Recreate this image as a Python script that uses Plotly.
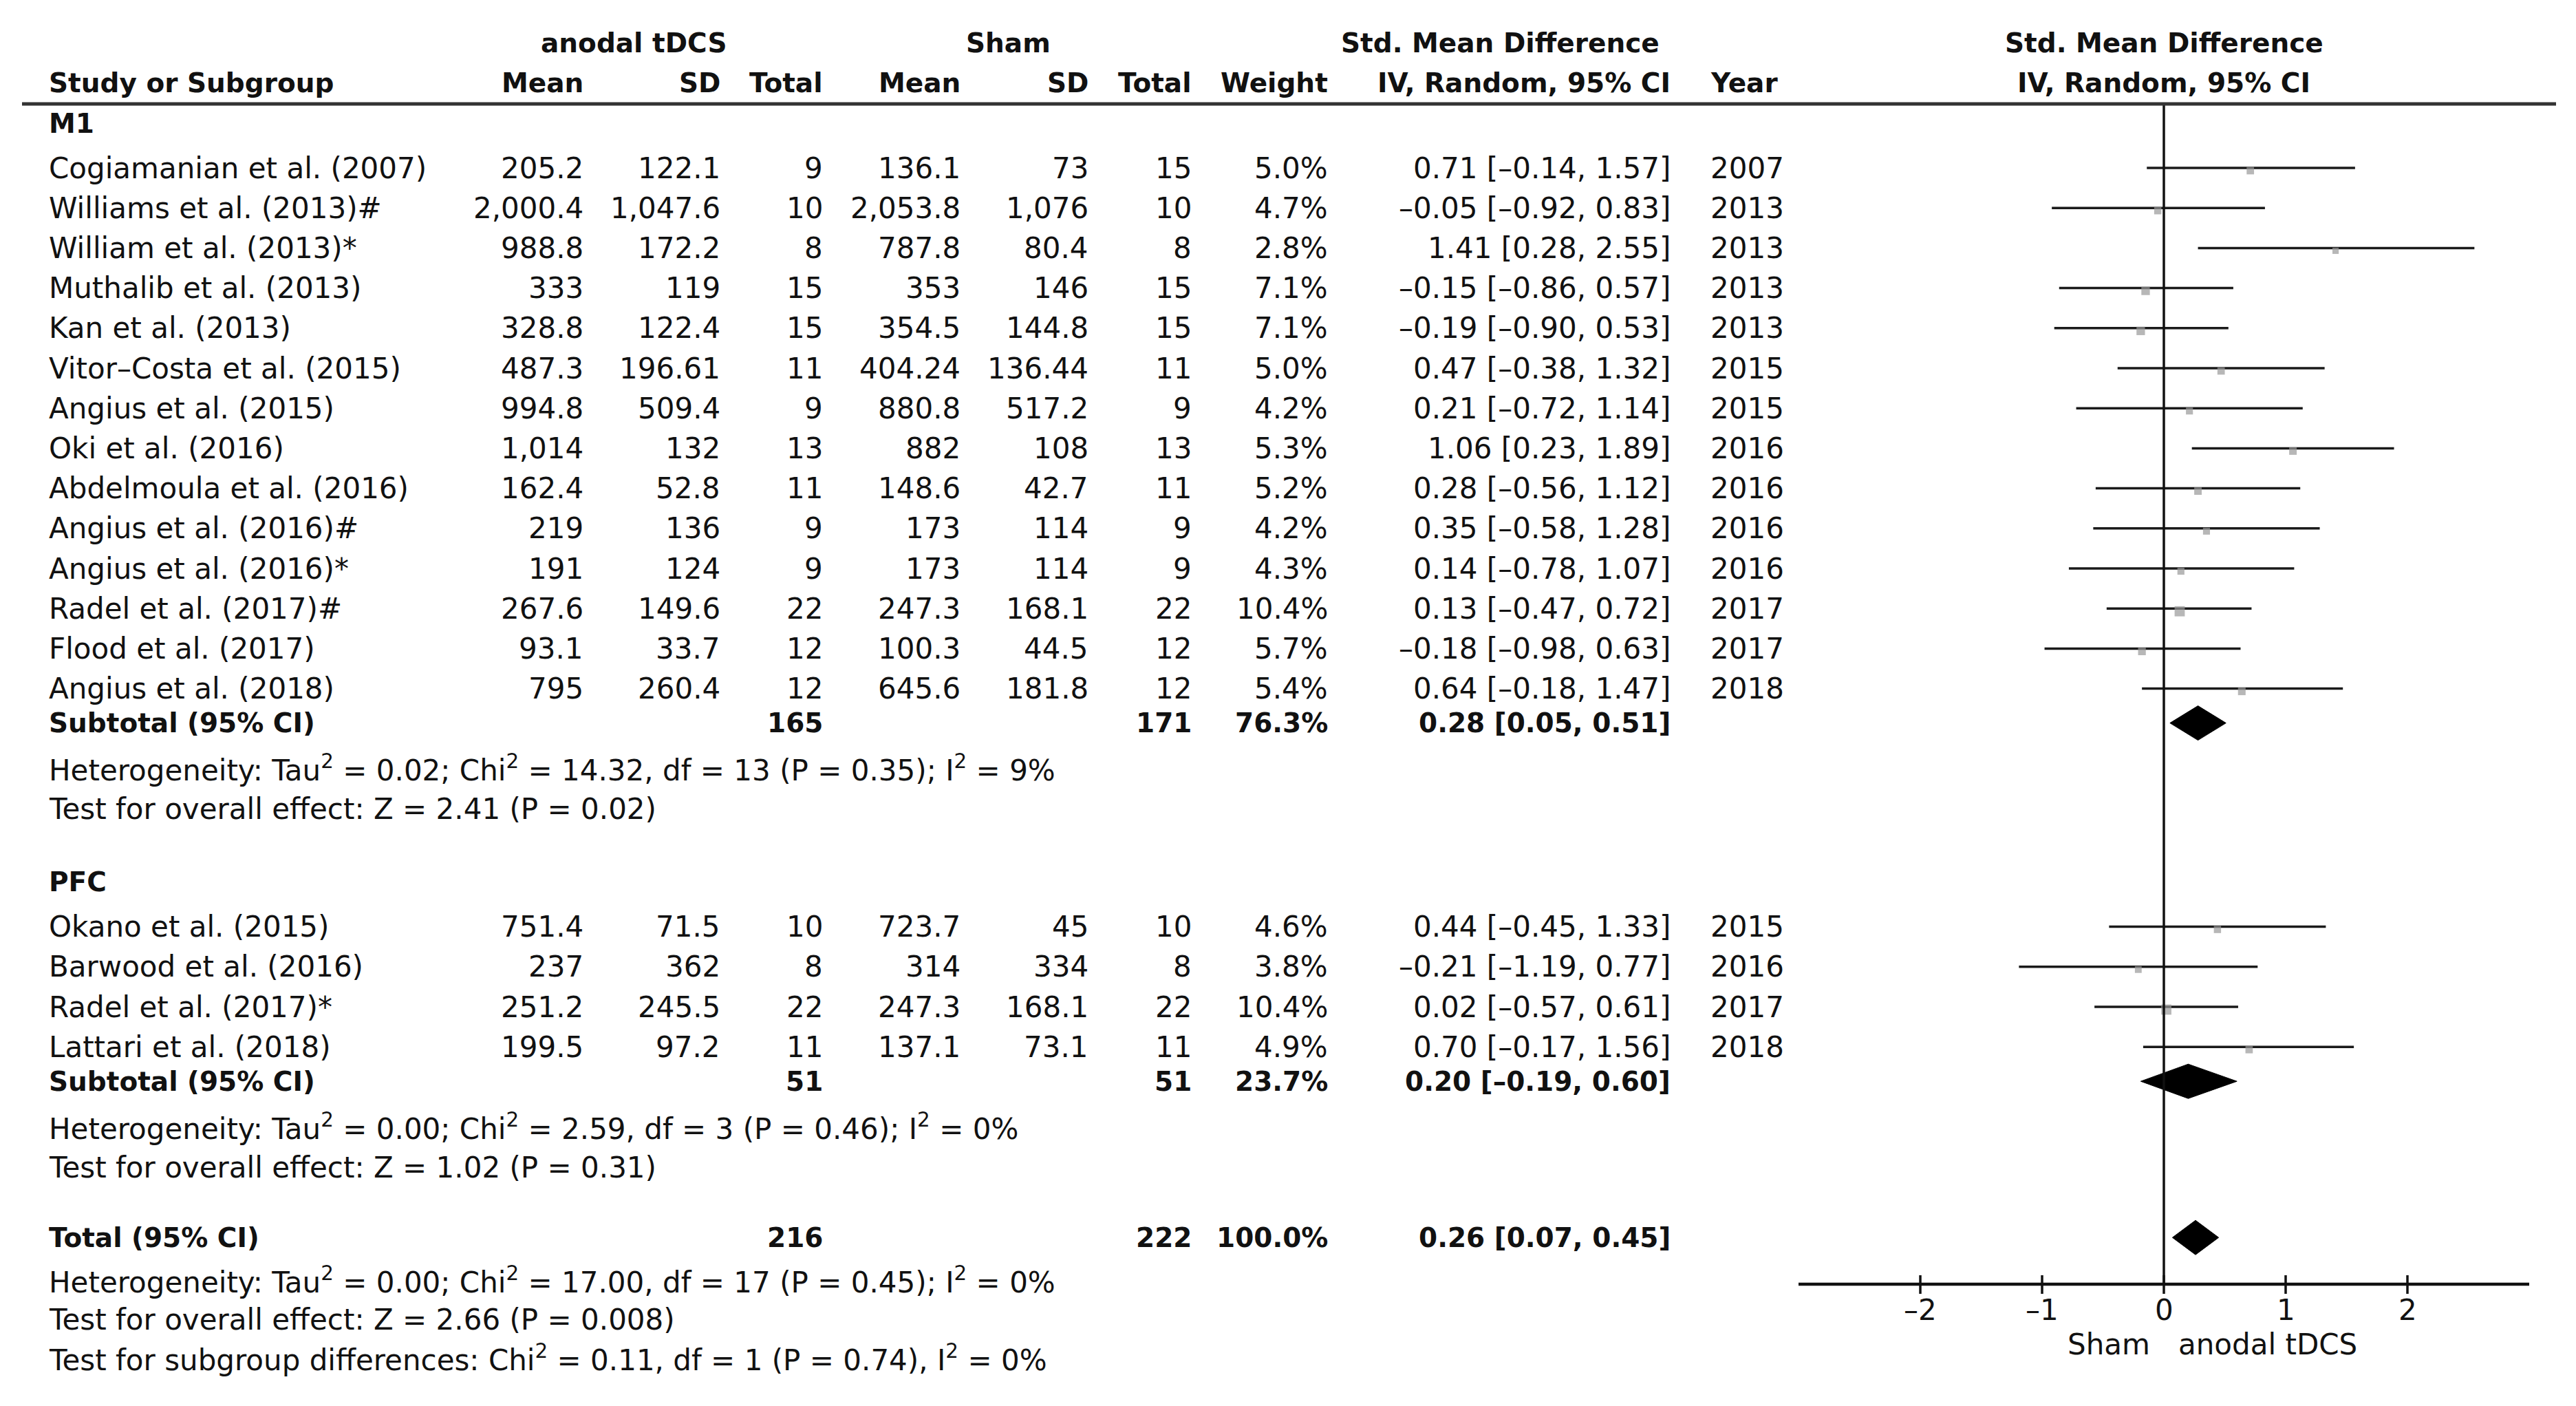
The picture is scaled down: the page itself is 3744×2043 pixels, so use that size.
import plotly.graph_objects as go

# ---------------- data ----------------
m1_study = ["Cogiamanian et al. (2007)", "Williams et al. (2013)#", "William et al. (2013)*",
            "Muthalib et al. (2013)", "Kan et al. (2013)", "Vitor–Costa et al. (2015)",
            "Angius et al. (2015)", "Oki et al. (2016)", "Abdelmoula et al. (2016)",
            "Angius et al. (2016)#", "Angius et al. (2016)*", "Radel et al. (2017)#",
            "Flood et al. (2017)", "Angius et al. (2018)"]
m1_exp_mean = [205.2, 2000.4, 988.8, 333, 328.8, 487.3, 994.8, 1014, 162.4, 219, 191, 267.6, 93.1, 795]
m1_exp_sd = [122.1, 1047.6, 172.2, 119, 122.4, 196.61, 509.4, 132, 52.8, 136, 124, 149.6, 33.7, 260.4]
m1_exp_n = [9, 10, 8, 15, 15, 11, 9, 13, 11, 9, 9, 22, 12, 12]
m1_ctl_mean = [136.1, 2053.8, 787.8, 353, 354.5, 404.24, 880.8, 882, 148.6, 173, 173, 247.3, 100.3, 645.6]
m1_ctl_sd = [73, 1076, 80.4, 146, 144.8, 136.44, 517.2, 108, 42.7, 114, 114, 168.1, 44.5, 181.8]
m1_ctl_n = [15, 10, 8, 15, 15, 11, 9, 13, 11, 9, 9, 22, 12, 12]
m1_weight = [5.0, 4.7, 2.8, 7.1, 7.1, 5.0, 4.2, 5.3, 5.2, 4.2, 4.3, 10.4, 5.7, 5.4]
m1_smd = [0.71, -0.05, 1.41, -0.15, -0.19, 0.47, 0.21, 1.06, 0.28, 0.35, 0.14, 0.13, -0.18, 0.64]
m1_lo = [-0.14, -0.92, 0.28, -0.86, -0.90, -0.38, -0.72, 0.23, -0.56, -0.58, -0.78, -0.47, -0.98, -0.18]
m1_hi = [1.57, 0.83, 2.55, 0.57, 0.53, 1.32, 1.14, 1.89, 1.12, 1.28, 1.07, 0.72, 0.63, 1.47]
m1_year = [2007, 2013, 2013, 2013, 2013, 2015, 2015, 2016, 2016, 2016, 2016, 2017, 2017, 2018]
m1_subtotal = dict(exp_n=165, ctl_n=171, weight=76.3, smd=0.28, lo=0.05, hi=0.51)
m1_het = "Heterogeneity: Tau<sup>2</sup> = 0.02; Chi<sup>2</sup> = 14.32, df = 13 (P = 0.35); I<sup>2</sup> = 9%"
m1_test = "Test for overall effect: Z = 2.41 (P = 0.02)"

pfc_study = ["Okano et al. (2015)", "Barwood et al. (2016)", "Radel et al. (2017)*", "Lattari et al. (2018)"]
pfc_exp_mean = [751.4, 237, 251.2, 199.5]
pfc_exp_sd = [71.5, 362, 245.5, 97.2]
pfc_exp_n = [10, 8, 22, 11]
pfc_ctl_mean = [723.7, 314, 247.3, 137.1]
pfc_ctl_sd = [45, 334, 168.1, 73.1]
pfc_ctl_n = [10, 8, 22, 11]
pfc_weight = [4.6, 3.8, 10.4, 4.9]
pfc_smd = [0.44, -0.21, 0.02, 0.70]
pfc_lo = [-0.45, -1.19, -0.57, -0.17]
pfc_hi = [1.33, 0.77, 0.61, 1.56]
pfc_year = [2015, 2016, 2017, 2018]
pfc_subtotal = dict(exp_n=51, ctl_n=51, weight=23.7, smd=0.20, lo=-0.19, hi=0.60)
pfc_het = "Heterogeneity: Tau<sup>2</sup> = 0.00; Chi<sup>2</sup> = 2.59, df = 3 (P = 0.46); I<sup>2</sup> = 0%"
pfc_test = "Test for overall effect: Z = 1.02 (P = 0.31)"

total = dict(exp_n=216, ctl_n=222, weight=100.0, smd=0.26, lo=0.07, hi=0.45)
total_notes = [
    "Heterogeneity: Tau<sup>2</sup> = 0.00; Chi<sup>2</sup> = 17.00, df = 17 (P = 0.45); I<sup>2</sup> = 0%",
    "Test for overall effect: Z = 2.66 (P = 0.008)",
    "Test for subgroup differences: Chi<sup>2</sup> = 0.11, df = 1 (P = 0.74), I<sup>2</sup> = 0%",
]
axis_ticks = [-2, -1, 0, 1, 2]
axis_range = [-3, 3]
favours_left = "Sham"
favours_right = "anodal tDCS"

groups = [
    dict(name="M1", study=m1_study, em=m1_exp_mean, esd=m1_exp_sd, en=m1_exp_n,
         cm=m1_ctl_mean, csd=m1_ctl_sd, cn=m1_ctl_n, w=m1_weight, smd=m1_smd,
         lo=m1_lo, hi=m1_hi, year=m1_year, sub=m1_subtotal, het=m1_het, test=m1_test),
    dict(name="PFC", study=pfc_study, em=pfc_exp_mean, esd=pfc_exp_sd, en=pfc_exp_n,
         cm=pfc_ctl_mean, csd=pfc_ctl_sd, cn=pfc_ctl_n, w=pfc_weight, smd=pfc_smd,
         lo=pfc_lo, hi=pfc_hi, year=pfc_year, sub=pfc_subtotal, het=pfc_het, test=pfc_test),
]

# ---------------- layout constants ----------------
W, H = 3744, 2043
OFF = 8            # page margin of the browser body
FONT = "DejaVu Sans"
FS = 42
FS_B = 39
TXT = "#111111"
X_STUDY = 69
X_EMEAN, X_ESD, X_EN = 850, 1049, 1198
X_CMEAN, X_CSD, X_CN = 1398, 1584, 1734
X_W, X_CI, X_YEAR = 1932, 2430, 2484
X_EXP_HDR, X_CTL_HDR, X_SMD_HDR = 921, 1465, 2180
Y_H1, Y_H2, Y_RULE = 62, 120, 151
FOREST_L, FOREST_R = 2614, 3676
Y_AXIS = 1866
STEP = 58.2


def px(x):
    return (x - OFF) / W


def num(v):
    return f"{v:,}"


def dash(s):
    return s.replace("-", "–")


def ci(s, l, h):
    return dash(f"{s:.2f} [{l:.2f}, {h:.2f}]")


fig = go.Figure()
ann = []


def text(x, y, s, anchor="left", bold=False, xref="paper"):
    size = FS
    if bold:
        s = f"<b>{s}</b>"
        size = FS_B
    ann.append(dict(x=px(x) if xref == "paper" else x, y=y, xref=xref, yref="y", text=s,
                    showarrow=False, xanchor=anchor, yanchor="middle",
                    font=dict(family=FONT, size=size, color=TXT)))


def diamond(y, d, half=25):
    fig.add_trace(go.Scatter(x=[d["lo"], d["smd"], d["hi"], d["smd"], d["lo"]],
                             y=[y, y - half, y, y + half, y], mode="lines", fill="toself",
                             fillcolor="black", line=dict(color="black", width=1),
                             hoverinfo="skip", showlegend=False))


# headers
text(X_EXP_HDR, Y_H1, "anodal tDCS", "center", True)
text(X_CTL_HDR, Y_H1, "Sham", "center", True)
text(X_SMD_HDR, Y_H1, "Std. Mean Difference", "center", True)
text(3145, Y_H1, "Std. Mean Difference", "center", True)
text(X_STUDY, Y_H2, "Study or Subgroup", "left", True)
for x, s in [(X_EMEAN, "Mean"), (X_ESD, "SD"), (X_EN, "Total"), (X_CMEAN, "Mean"),
             (X_CSD, "SD"), (X_CN, "Total"), (X_W, "Weight"), (X_CI, "IV, Random, 95% CI")]:
    text(x, Y_H2, s, "right", True)
text(X_YEAR, Y_H2, "Year", "left", True)
text(3145, Y_H2, "IV, Random, 95% CI", "center", True)

# rows
y = 179
gaps_after_test = 106
for gi, g in enumerate(groups):
    text(X_STUDY, y, g["name"], "left", True)
    y += 65
    ys = []
    for i, st in enumerate(g["study"]):
        text(X_STUDY, y, st)
        text(X_EMEAN, y, num(g["em"][i]), "right")
        text(X_ESD, y, num(g["esd"][i]), "right")
        text(X_EN, y, num(g["en"][i]), "right")
        text(X_CMEAN, y, num(g["cm"][i]), "right")
        text(X_CSD, y, num(g["csd"][i]), "right")
        text(X_CN, y, num(g["cn"][i]), "right")
        text(X_W, y, f"{g['w'][i]:.1f}%", "right")
        text(X_CI, y, ci(g["smd"][i], g["lo"][i], g["hi"][i]), "right")
        text(X_YEAR, y, str(g["year"][i]), "left")
        ys.append(y)
        y += STEP
    y -= STEP
    # CI lines
    xs, yl = [], []
    for i in range(len(ys)):
        xs += [g["lo"][i], g["hi"][i], None]
        yl += [ys[i], ys[i], None]
    fig.add_trace(go.Scatter(x=xs, y=yl, mode="lines", line=dict(color="#1a1a1a", width=3.5),
                             hoverinfo="skip", showlegend=False))
    fig.add_trace(go.Scatter(x=g["smd"], y=[v + 4 for v in ys], mode="markers",
                             marker=dict(symbol="square", color="#999999",
                                         size=[7 + 0.75 * w for w in g["w"]], line=dict(width=0)),
                             hoverinfo="skip", showlegend=False))
    # subtotal
    y += 50
    s = g["sub"]
    text(X_STUDY, y, "Subtotal (95% CI)", "left", True)
    text(X_EN, y, num(s["exp_n"]), "right", True)
    text(X_CN, y, num(s["ctl_n"]), "right", True)
    text(X_W, y, f"{s['weight']:.1f}%", "right", True)
    text(X_CI, y, ci(s["smd"], s["lo"], s["hi"]), "right", True)
    diamond(y, s)
    y += 66
    text(X_STUDY, y, g["het"])
    y += 59
    text(X_STUDY, y, g["test"])
    if gi < len(groups) - 1:
        y += gaps_after_test

# total
y += 102
text(X_STUDY, y, "Total (95% CI)", "left", True)
text(X_EN, y, num(total["exp_n"]), "right", True)
text(X_CN, y, num(total["ctl_n"]), "right", True)
text(X_W, y, f"{total['weight']:.1f}%", "right", True)
text(X_CI, y, ci(total["smd"], total["lo"], total["hi"]), "right", True)
diamond(y, total)
for k, note in enumerate(total_notes):
    y += [62, 57, 56][k]
    text(X_STUDY, y, note)

# zero line
fig.add_trace(go.Scatter(x=[0, 0], y=[Y_RULE, Y_AXIS], mode="lines",
                         line=dict(color="#111111", width=3.5), hoverinfo="skip", showlegend=False))
# axis line and ticks
fig.add_trace(go.Scatter(x=axis_range, y=[Y_AXIS, Y_AXIS], mode="lines",
                         line=dict(color="#111111", width=4.5), hoverinfo="skip", showlegend=False))
tx, ty = [], []
for t in axis_ticks:
    tx += [t, t, None]
    ty += [Y_AXIS - 13, Y_AXIS + 14, None]
fig.add_trace(go.Scatter(x=tx, y=ty, mode="lines", line=dict(color="#111111", width=3.5),
                         hoverinfo="skip", showlegend=False))
for t in axis_ticks:
    text(t, 1903, dash(str(t)), "center", xref="x")
text(-0.10, 1953, favours_left, "right", xref="x")
text(0.11, 1953, favours_right, "left", xref="x")

# header rule
fig.add_shape(type="line", xref="paper", yref="y", x0=px(32), x1=px(3715), y0=Y_RULE, y1=Y_RULE,
              line=dict(color="#333333", width=5))

fig.update_layout(
    width=W, height=H, margin=dict(l=0, r=0, t=0, b=0),
    paper_bgcolor="white", plot_bgcolor="white", showlegend=False,
    annotations=ann,
    xaxis=dict(domain=[px(FOREST_L), px(FOREST_R)], range=axis_range, visible=False, fixedrange=True),
    yaxis=dict(domain=[0, 1], range=[H + OFF, OFF], visible=False, fixedrange=True),
)
fig.write_html("out.html")
